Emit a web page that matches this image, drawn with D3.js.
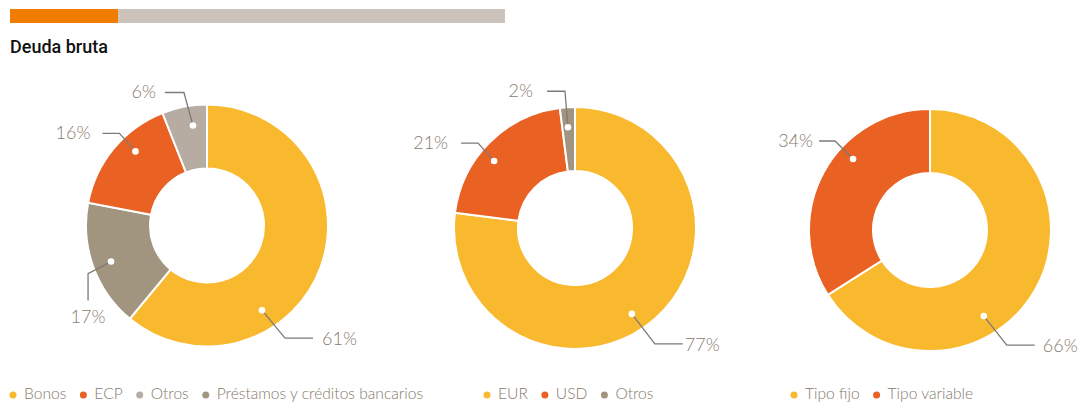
<!DOCTYPE html>
<html>
<head>
<meta charset="utf-8">
<script src="https://cdn.jsdelivr.net/npm/d3@7"></script>
<style>
	body { margin: 0; background: #fff; }
	svg { display: block; }
</style>
</head>
<body>
<div id="chart"></div>
<script>
// Data
var title = "Deuda bruta";

var tipoDeuda = ["Bonos", "Préstamos y créditos bancarios", "ECP", "Otros"];
var tipoDeudaValues = [61, 17, 16, 6];
var tipoDeudaLegend = ["Bonos", "ECP", "Otros", "Préstamos y créditos bancarios"];

var divisa = ["EUR", "USD", "Otros"];
var divisaValues = [77, 21, 2];
var divisaLegend = ["EUR", "USD", "Otros"];

var tipoInteres = ["Tipo fijo", "Tipo variable"];
var tipoInteresValues = [66, 34];
var tipoInteresLegend = ["Tipo fijo", "Tipo variable"];

// colours by category
var colors = {
	"Bonos": "#f9b92f",
	"ECP": "#e96123",
	"Otros": "#b6aca2",
	"Préstamos y créditos bancarios": "#a29580",
	"EUR": "#f9b92f",
	"USD": "#e96123",
	"Tipo fijo": "#f9b92f",
	"Tipo variable": "#e96123"
};
var otrosDivisa = "#a29580";

var width = 1078;
var height = 402;
var textColor = "#877a6b";
var lineColor = "#7d7b78";
var outerR = 121;
var innerR = 57;

// label layout: dot angle (deg), dot radius, elbow dx/dy, end dx/dy, text anchor, gap, baseline shift
var layout1 = [
	[147, 101, 23, 28, 51, 28, "start", 9, 7],
	[249.4, 102.5, -23, 12, -23, 39, "middle", 0, 22],
	[316, 103, -16, -18, -33, -18, "end", 12, 6],
	[352, 101, -9, -33, -28, -33, "end", 9, 6]
];
var layout2 = [
	[146.5, 103, 23, 30, 51, 30, "start", 2, 7],
	[309.6, 105, -16, -18, -33, -18, "end", 13, 6],
	[356, 101, -3, -36, -21, -36, "end", 14, 6]
];
var layout3 = [
	[148, 101.5, 23, 29, 51, 29, "start", 8, 7],
	[312.7, 104.7, -18, -18, -34, -18, "end", 6, 6]
];

var svg = d3.select("#chart")
	.append("svg")
	.attr("width", width)
	.attr("height", height);

// header bar
svg.append("rect").attr("x", 10).attr("y", 9).attr("width", 108).attr("height", 14).style("fill", "#f07d00");
svg.append("rect").attr("x", 118).attr("y", 9).attr("width", 387).attr("height", 14).style("fill", "#cbc3bc");

svg.append("text")
	.attr("x", 10)
	.attr("y", 53)
	.style("font-family", "Roboto")
	.style("font-weight", 500)
	.style("font-size", "18px")
	.style("fill", "#111")
	.text(title);

var pie = d3.pie().sort(null).value(d => d.value);
var arc = d3.arc().innerRadius(innerR).outerRadius(outerR);

function drawDonut(cx, cy, cats, vals, layout, colorFn) {
	var data = cats.map((c, i) => ({ cat: c, value: vals[i] }));
	var g = svg.append("g").attr("transform", "translate(" + cx + "," + cy + ")");
	var arcs = pie(data);

	g.selectAll("path")
		.data(arcs)
		.enter()
		.append("path")
		.attr("d", arc)
		.style("fill", d => colorFn(d.data.cat))
		.style("stroke", "#fff")
		.style("stroke-width", 2);

	arcs.forEach(function(d, i) {
		var l = layout[i];
		var a = l[0] * Math.PI / 180;
		var px = Math.sin(a) * l[1];
		var py = -Math.cos(a) * l[1];
		var ex = px + l[2], ey = py + l[3];
		var fx = px + l[4], fy = py + l[5];

		g.append("path")
			.attr("d", d3.line()([[px, py], [ex, ey], [fx, fy]]))
			.style("fill", "none")
			.style("stroke", lineColor)
			.style("stroke-width", 1.3);

		g.append("circle")
			.attr("cx", px)
			.attr("cy", py)
			.attr("r", 3.3)
			.style("fill", "#fff");

		var tx = fx;
		if (l[6] == "start") tx = fx + l[7];
		if (l[6] == "end") tx = fx - l[7];
		g.append("text")
			.attr("x", tx)
			.attr("y", fy + l[8])
			.attr("text-anchor", l[6])
			.style("font-family", "Lato")
			.style("font-weight", 300)
			.style("font-size", "18px")
			.style("fill", textColor)
			.text(d.data.value + "%");
	});
}

drawDonut(207, 225.5, tipoDeuda, tipoDeudaValues, layout1, c => colors[c]);
drawDonut(575, 228, divisa, divisaValues, layout2, c => c == "Otros" ? otrosDivisa : colors[c]);
drawDonut(930, 230, tipoInteres, tipoInteresValues, layout3, c => colors[c]);

// legends
function drawLegend(x0, items, colorFn) {
	var x = x0;
	items.forEach(function(c) {
		svg.append("circle")
			.attr("cx", x)
			.attr("cy", 395)
			.attr("r", 3.5)
			.style("fill", colorFn(c));
		var t = svg.append("text")
			.attr("x", x + 11)
			.attr("y", 398.5)
			.style("font-family", "Lato")
			.style("font-weight", 300)
			.style("font-size", "15.6px")
			.style("fill", textColor)
			.text(c);
		x = x + 11 + t.node().getComputedTextLength() + 17;
	});
}

drawLegend(13, tipoDeudaLegend, c => colors[c]);
drawLegend(487, divisaLegend, c => c == "Otros" ? otrosDivisa : colors[c]);
drawLegend(794, tipoInteresLegend, c => colors[c]);
</script>
</body>
</html>
